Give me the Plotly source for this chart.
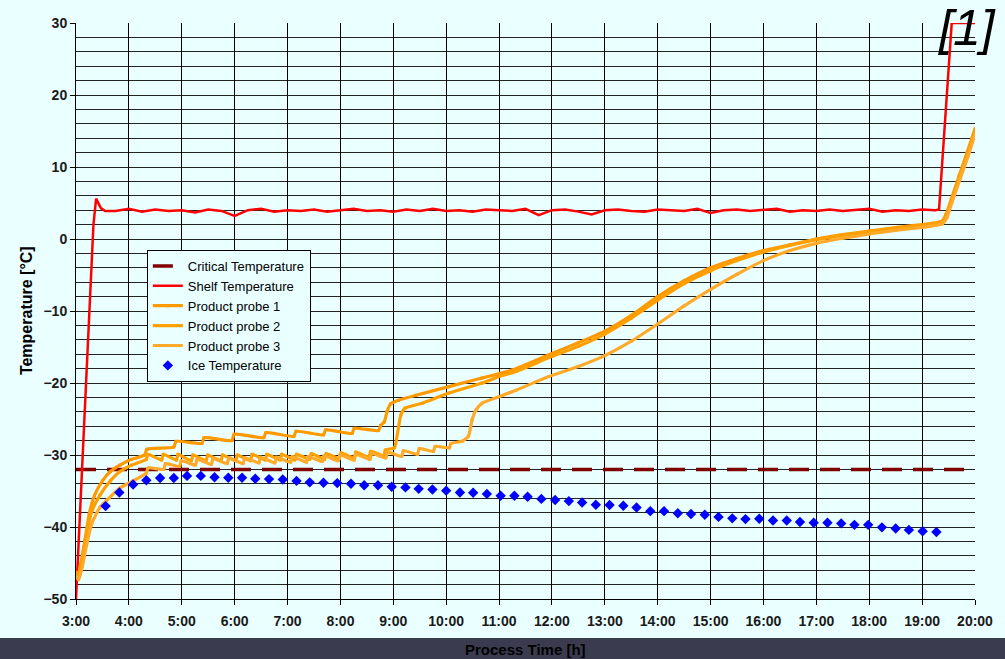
import plotly.graph_objects as go

# ---------------- data ----------------
HOUR_TICKS = list(range(3, 21))
HOUR_LABELS = [f"{h}:00" for h in HOUR_TICKS]

CRIT_T = [3.0, 20.0]
CRIT_V = [-32.0, -32.0]

SHELF_T = [3.0, 3.17, 3.33, 3.38, 3.42, 3.47, 3.55,
           3.75, 4.0, 4.25, 4.5, 4.75, 5.0, 5.25, 5.5, 5.75, 6.0, 6.25, 6.5, 6.75, 7.0, 7.25, 7.5, 7.75,
           8.0, 8.25, 8.5, 8.75, 9.0, 9.25, 9.5, 9.75, 10.0, 10.25, 10.5, 10.75, 11.0, 11.25, 11.5, 11.75,
           12.0, 12.25, 12.5, 12.75, 13.0, 13.25, 13.5, 13.75, 14.0, 14.25, 14.5, 14.75, 15.0, 15.25, 15.5,
           15.75, 16.0, 16.25, 16.5, 16.75, 17.0, 17.25, 17.5, 17.75, 18.0, 18.25, 18.5, 18.75, 19.0, 19.25,
           19.32, 19.56, 20.0]
SHELF_V = [-50.0, -23.2, 2.0, 5.6, 5.0, 4.3, 3.9,
           3.9, 4.2, 3.8, 4.1, 3.9, 4.0, 3.7, 4.1, 3.9, 3.2, 4.0, 4.2, 3.8, 4.0, 3.9, 4.1, 3.8,
           4.0, 4.2, 3.9, 4.0, 3.8, 4.1, 3.9, 4.2, 3.9, 4.0, 3.8, 4.1, 4.0, 3.9, 4.2, 3.3,
           4.0, 4.1, 3.8, 3.4, 4.0, 4.1, 3.9, 3.8, 4.1, 4.0, 3.9, 4.2, 3.6, 4.0, 4.1,
           3.9, 4.0, 4.2, 3.8, 4.0, 3.9, 4.1, 3.9, 4.0, 4.2, 3.8, 4.0, 3.9, 4.1, 4.0,
           4.1, 30.0, 30.0]

P1_T = [3.00, 3.04, 3.10, 3.17, 3.25, 3.35, 3.50, 3.65, 3.83, 4.05, 4.30, 4.34, 4.85, 4.89, 5.38, 5.42,
        5.95, 5.99, 6.55, 6.59, 7.12, 7.16, 7.68, 7.72, 8.22, 8.26, 8.72, 8.76, 8.83, 8.88, 8.95, 9.10,
        9.43, 10.05, 10.68, 11.25, 12.0, 12.5, 13.0, 13.5, 14.0, 14.5, 15.0, 15.5, 16.0, 16.5, 17.0,
        17.5, 18.0, 18.5, 19.0, 19.38, 19.45, 19.55, 19.70, 19.85, 20.0]
P1_V = [-46.3, -46.9, -45.0, -41.8, -38.2, -35.6, -33.6, -32.3, -31.4, -30.6, -30.0, -29.2, -28.9, -28.1, -28.4, -27.6,
        -28.0, -27.1, -27.6, -26.9, -27.4, -26.7, -27.2, -26.5, -27.0, -26.3, -26.6, -25.9, -25.4, -24.0, -22.9, -22.4,
        -21.7, -20.5, -19.3, -18.2, -15.9, -14.4, -12.8, -10.6, -8.0, -5.8, -4.0, -2.7, -1.6, -0.8, 0.0,
        0.6, 1.1, 1.6, 2.0, 2.5, 3.4, 5.5, 8.8, 12.0, 15.3]

P2_T = [3.00, 3.05, 3.12, 3.20, 3.30, 3.45, 3.65, 3.83, 4.05, 4.33, 4.36,
        4.62, 4.65, 4.90, 4.93, 5.18, 5.21, 5.46, 5.49, 5.74, 5.77, 6.02, 6.05, 6.30, 6.33, 6.58, 6.61,
        6.86, 6.89, 7.14, 7.17, 7.42, 7.45, 7.70, 7.73, 7.98, 8.01, 8.26, 8.29, 8.54, 8.57, 8.82, 8.85,
        9.02, 9.08, 9.14, 9.22, 9.55, 10.05, 10.68, 11.0, 11.32, 12.0, 12.5, 13.0, 13.5, 14.0, 14.5,
        15.0, 15.5, 16.0, 16.5, 17.0, 17.5, 18.0, 18.5, 19.0, 19.38, 19.46, 19.56, 19.71, 19.86, 20.0]
P2_V = [-46.8, -46.4, -44.0, -40.8, -37.8, -35.6, -33.6, -32.3, -31.4, -30.6, -29.9,
        -30.7, -29.9, -30.7, -29.9, -30.8, -30.0, -30.8, -30.0, -30.8, -30.0, -30.8, -30.0, -30.8, -29.9, -30.7, -29.9,
        -30.7, -29.9, -30.7, -29.9, -30.6, -29.8, -30.6, -29.8, -30.5, -29.7, -30.4, -29.6, -30.3, -29.5, -30.1, -29.3,
        -29.0, -27.0, -24.5, -23.5, -22.8, -21.4, -20.0, -19.1, -18.4, -16.3, -14.9, -13.2, -11.0, -8.5, -6.2,
        -4.4, -3.0, -1.8, -0.9, -0.1, 0.5, 1.0, 1.4, 1.8, 2.3, 3.2, 5.3, 8.5, 11.6, 14.8]

P3_T = [3.00, 3.05, 3.12, 3.20, 3.30, 3.45, 3.58, 3.83, 4.08, 4.33, 4.36,
        4.66, 4.69, 4.96, 4.99, 5.26, 5.29, 5.56, 5.59, 5.86, 5.89, 6.16, 6.19, 6.46, 6.49, 6.76, 6.79,
        7.06, 7.09, 7.36, 7.39, 7.66, 7.69, 7.96, 7.99, 8.26, 8.29, 8.56, 8.59, 8.86, 8.89, 9.16, 9.19,
        9.46, 9.49, 9.76, 9.79, 10.06, 10.09, 10.30, 10.42, 10.49, 10.56, 10.68, 11.0, 11.32, 11.94,
        12.5, 13.0, 13.5, 14.0, 14.5, 15.0, 15.5, 16.0, 16.5, 17.0, 17.5, 18.0, 18.5, 19.0, 19.38,
        19.47, 19.57, 19.72, 19.87, 20.0]
P3_V = [-47.0, -47.3, -45.5, -42.5, -39.5, -37.3, -36.3, -34.6, -33.6, -32.5, -31.8,
        -32.0, -31.2, -31.6, -30.8, -31.4, -30.6, -31.3, -30.5, -31.2, -30.4, -31.2, -30.4, -31.1, -30.3, -31.1, -30.3,
        -31.0, -30.2, -31.0, -30.2, -30.9, -30.1, -30.8, -30.0, -30.7, -29.9, -30.6, -29.8, -30.4, -29.6, -30.2, -29.4,
        -29.9, -29.1, -29.5, -28.8, -29.0, -28.4, -28.1, -27.4, -25.1, -23.8, -22.8, -21.9, -21.0, -19.1,
        -17.7, -16.2, -14.2, -11.8, -9.3, -7.0, -4.9, -3.0, -1.6, -0.6, 0.1, 0.7, 1.2, 1.6, 2.1,
        3.0, 5.2, 8.4, 11.5, 14.6]

ICE_T = [3.56, 3.82, 4.08, 4.33, 4.59, 4.85, 5.10, 5.36, 5.62, 5.88,
         6.14, 6.39, 6.65, 6.91, 7.17, 7.42, 7.68, 7.94, 8.20, 8.45,
         8.71, 8.97, 9.23, 9.48, 9.74, 10.00, 10.26, 10.51, 10.77, 11.03,
         11.29, 11.54, 11.80, 12.06, 12.32, 12.57, 12.83, 13.09, 13.35, 13.60,
         13.86, 14.12, 14.38, 14.63, 14.89, 15.15, 15.41, 15.66, 15.92, 16.18,
         16.44, 16.69, 16.95, 17.21, 17.47, 17.72, 17.98, 18.24, 18.50, 18.75,
         19.01, 19.27]
ICE_V = [-37.1, -35.2, -34.1, -33.5, -33.2, -33.2, -32.9, -32.9, -33.1, -33.15,
         -33.15, -33.3, -33.35, -33.4, -33.6, -33.8, -33.85, -33.9, -34.0, -34.2,
         -34.2, -34.4, -34.5, -34.7, -34.8, -34.95, -35.2, -35.25, -35.4, -35.65,
         -35.65, -35.8, -36.1, -36.25, -36.4, -36.6, -36.9, -36.95, -37.05, -37.3,
         -37.8, -37.8, -38.1, -38.2, -38.3, -38.6, -38.8, -38.9, -38.85, -39.1,
         -39.1, -39.3, -39.4, -39.4, -39.5, -39.7, -39.7, -40.05, -40.2, -40.4,
         -40.6, -40.7]

# ---------------- figure ----------------
FONT = "Liberation Sans, Arial, sans-serif"
BG = "#EAFFFF"

fig = go.Figure()
fig.add_trace(go.Scatter(x=CRIT_T, y=CRIT_V, mode="lines", name="Critical Temperature",
                         line=dict(color="#800000", width=3.5, dash="20px,11px")))
fig.add_trace(go.Scatter(x=SHELF_T, y=SHELF_V, mode="lines", name="Shelf Temperature",
                         line=dict(color="#FF0000", width=2.5)))
for name, t, v, col in [("Product probe 1", P1_T, P1_V, "#FF9900"),
                        ("Product probe 2", P2_T, P2_V, "#FFA000"),
                        ("Product probe 3", P3_T, P3_V, "#FFAA2A")]:
    fig.add_trace(go.Scatter(x=t, y=v, mode="lines+markers", name=name,
                             line=dict(color=col, width=3.2, shape="spline", smoothing=0.5),
                             marker=dict(color=col, size=3, symbol="square")))
fig.add_trace(go.Scatter(x=ICE_T, y=ICE_V, mode="markers", name="Ice Temperature",
                         marker=dict(color="#0000FF", size=8, symbol="diamond")))

tickfont = dict(family=FONT, size=14, color="#1a1a1a", weight="bold")

fig.update_layout(
    width=1005, height=659,
    margin=dict(l=76, r=28, t=23, b=60),
    paper_bgcolor=BG, plot_bgcolor=BG,
    font=dict(family=FONT, color="black"),
    showlegend=True,
    legend=dict(x=0.0788, y=0.606, xanchor="left", yanchor="top",
                bgcolor=BG, bordercolor="black", borderwidth=1,
                font=dict(family=FONT, size=13, color="black"),
                tracegroupgap=0, itemwidth=30),
    xaxis=dict(range=[3, 20], tickvals=HOUR_TICKS, ticktext=HOUR_LABELS,
               showgrid=True, gridcolor="black", gridwidth=1,
               showline=True, linecolor="black", linewidth=1,
               ticks="outside", ticklen=5, tickcolor="black",
               tickfont=tickfont, zeroline=False, ticklabelstandoff=4),
    yaxis=dict(range=[-50, 30], tickvals=[-50, -40, -30, -20, -10, 0, 10, 20, 30],
               showgrid=True, gridcolor="#222222", gridwidth=1,
               minor=dict(tickvals=[v for v in range(-48, 30, 2)], showgrid=True,
                          gridcolor="#222222", gridwidth=1),
               showline=True, linecolor="black", linewidth=1,
               ticks="outside", ticklen=5, tickcolor="black",
               tickfont=tickfont, zeroline=False),
)

# dark band at the bottom
fig.add_shape(type="rect", xref="paper", yref="paper",
              x0=-0.09, x1=1.04, y0=-0.11, y1=(599 - 638) / 576,
              fillcolor="#3a3b4f", line=dict(width=0), layer="above")

fig.add_annotation(text="<b>Process Time [h]</b>", xref="paper", yref="paper",
                   x=(527 - 76) / 901, y=(599 - 649) / 576, xanchor="center", yanchor="middle",
                   showarrow=False, font=dict(family=FONT, size=15, color="black"))
fig.add_annotation(text="<b>Temperature [°C]</b>", xref="paper", yref="paper",
                   x=(26 - 76) / 901, y=(599 - 311) / 576, xanchor="center", yanchor="middle",
                   textangle=-90, showarrow=False, font=dict(family=FONT, size=16, color="black"))
fig.add_annotation(text="<i>[1]</i>", xref="paper", yref="paper",
                   x=(969 - 76) / 901, y=(599 - 28) / 576, xanchor="center", yanchor="middle",
                   showarrow=False, font=dict(family=FONT, size=50, color="black"))

fig.write_html("out.html", config={"displayModeBar": False},
               post_script="document.body.style.margin='0';document.body.style.background='#EAFFFF';")
